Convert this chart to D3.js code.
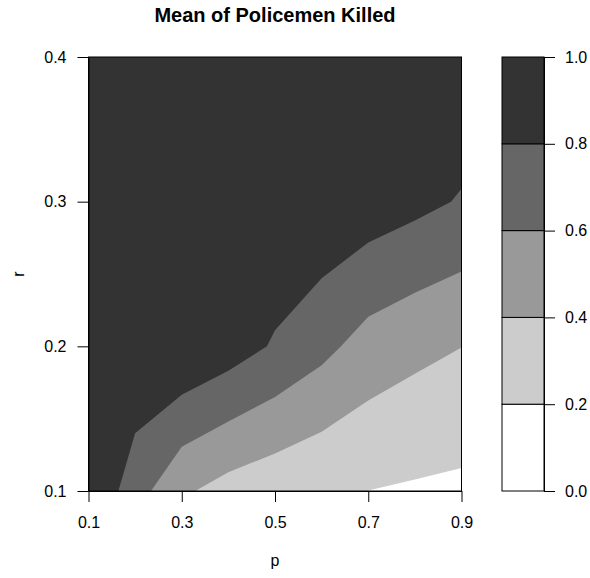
<!DOCTYPE html>
<html>
<head>
<meta charset="utf-8">
<script src="https://cdn.jsdelivr.net/npm/d3@7"></script>
<style>
  body { margin: 0; background: #fff; }
  text { font-family: "Liberation Sans", Arial, sans-serif; }
</style>
</head>
<body>
<div id="chart"></div>
<script>
// grid values (p along x, r along y)
var pVals = [0.1, 0.2, 0.3, 0.4, 0.5, 0.6, 0.7, 0.8, 0.9];
var rVals = [0.1, 0.2, 0.3, 0.4];
var killed_r01 = [1.00, 0.688, 0.43, 0.326, 0.267, 0.222, 0.199, 0.178, 0.162];
var killed_r02 = [1.00, 0.969, 0.986, 0.896, 0.78, 0.657, 0.52, 0.452, 0.402];
var killed_r03 = [1.00, 1.00, 1.00, 0.99, 0.96, 0.961, 0.91, 0.852, 0.785];
var killed_r04 = [1.00, 1.00, 1.00, 1.00, 1.00, 1.00, 1.00, 0.99, 0.952];
var levels = [0, 0.2, 0.4, 0.6, 0.8, 1.0];
var levelColors = ["#ffffff", "#cccccc", "#999999", "#666666", "#333333"];
var xTicks = [0.1, 0.3, 0.5, 0.7, 0.9];
var yTicks = [0.1, 0.2, 0.3, 0.4];

function draw_chart() {
    var width = 590, height = 578;
    var pl = 88.5, pr = 461.5, pt = 57, pb = 491;
    var keyLeft = 502, keyRight = 544;

    var svg = d3.select("#chart").append("svg")
        .attr("width", width)
        .attr("height", height);

    var x = d3.scaleLinear().domain([0.1, 0.9]).range([pl, pr]);
    var y = d3.scaleLinear().domain([0.1, 0.4]).range([pb, pt]);

    var values = [].concat(killed_r01, killed_r02, killed_r03, killed_r04);
    var nx = pVals.length, ny = rVals.length;
    var dp = pVals[1] - pVals[0], dr = rVals[1] - rVals[0];

    // contour grid coords: value i sits at i + 0.5
    var proj = d3.geoTransform({
        point: function (gx, gy) {
            this.stream.point(x(pVals[0] + (gx - 0.5) * dp), y(rVals[0] + (gy - 0.5) * dr));
        }
    });
    var path = d3.geoPath(proj);

    var contours = d3.contours()
        .size([nx, ny])
        .thresholds(levels.slice(1, -1))(values);

    svg.append("clipPath").attr("id", "plotclip")
        .append("rect")
        .attr("x", pl).attr("y", pt)
        .attr("width", pr - pl).attr("height", pb - pt);

    var plot = svg.append("g").attr("clip-path", "url(#plotclip)");
    plot.append("rect")
        .attr("x", pl).attr("y", pt)
        .attr("width", pr - pl).attr("height", pb - pt)
        .attr("fill", levelColors[0]);

    plot.selectAll("path.band")
        .data(contours)
        .enter().append("path")
        .attr("class", "band")
        .attr("d", path)
        .attr("fill", function (d, i) { return levelColors[i + 1]; });

    // frame
    svg.append("rect")
        .attr("x", pl).attr("y", pt)
        .attr("width", pr - pl).attr("height", pb - pt)
        .attr("fill", "none")
        .attr("stroke", "#000")
        .attr("stroke-width", 1);

    var xAxis = svg.append("g")
        .attr("transform", "translate(0," + pb + ")")
        .call(d3.axisBottom(x).tickValues(xTicks).tickFormat(d3.format(".1f"))
            .tickSize(11).tickSizeOuter(0).tickPadding(14.5));
    var yAxis = svg.append("g")
        .attr("transform", "translate(" + pl + ",0)")
        .call(d3.axisLeft(y).tickValues(yTicks).tickFormat(d3.format(".1f"))
            .tickSize(11).tickSizeOuter(0).tickPadding(11));

    // colour key
    var k = d3.scaleLinear().domain([0, 1]).range([pb, pt]);
    var bands = [];
    for (var i = 0; i < levelColors.length; i++) bands.push({ lo: levels[i], hi: levels[i + 1], col: levelColors[i] });

    svg.append("g").selectAll("rect")
        .data(bands)
        .enter().append("rect")
        .attr("x", keyLeft)
        .attr("y", function (d) { return k(d.hi); })
        .attr("width", keyRight - keyLeft)
        .attr("height", function (d) { return k(d.lo) - k(d.hi); })
        .attr("fill", function (d) { return d.col; })
        .attr("stroke", "#000")
        .attr("stroke-width", 1);

    var kAxis = svg.append("g")
        .attr("transform", "translate(" + keyRight + ",0)")
        .call(d3.axisRight(k).tickValues(levels).tickFormat(d3.format(".1f"))
            .tickSize(11).tickSizeOuter(0).tickPadding(10));

    [xAxis, yAxis, kAxis].forEach(function (g) {
        g.selectAll("text").attr("font-size", 16).attr("font-family", "Liberation Sans, Arial, sans-serif").attr("fill", "#000");
        g.selectAll("line").attr("stroke", "#000");
        g.select(".domain").attr("stroke", "#000");
    });

    // titles
    svg.append("text")
        .attr("x", (pl + pr) / 2)
        .attr("y", 22)
        .attr("text-anchor", "middle")
        .attr("font-size", 20)
        .attr("font-weight", "bold")
        .text("Mean of Policemen Killed");

    svg.append("text")
        .attr("x", (pl + pr) / 2)
        .attr("y", 566)
        .attr("text-anchor", "middle")
        .attr("font-size", 16)
        .text("p");

    svg.append("text")
        .attr("transform", "translate(24," + ((pt + pb) / 2) + ") rotate(-90)")
        .attr("text-anchor", "middle")
        .attr("font-size", 16)
        .text("r");
}

draw_chart();
</script>
</body>
</html>
